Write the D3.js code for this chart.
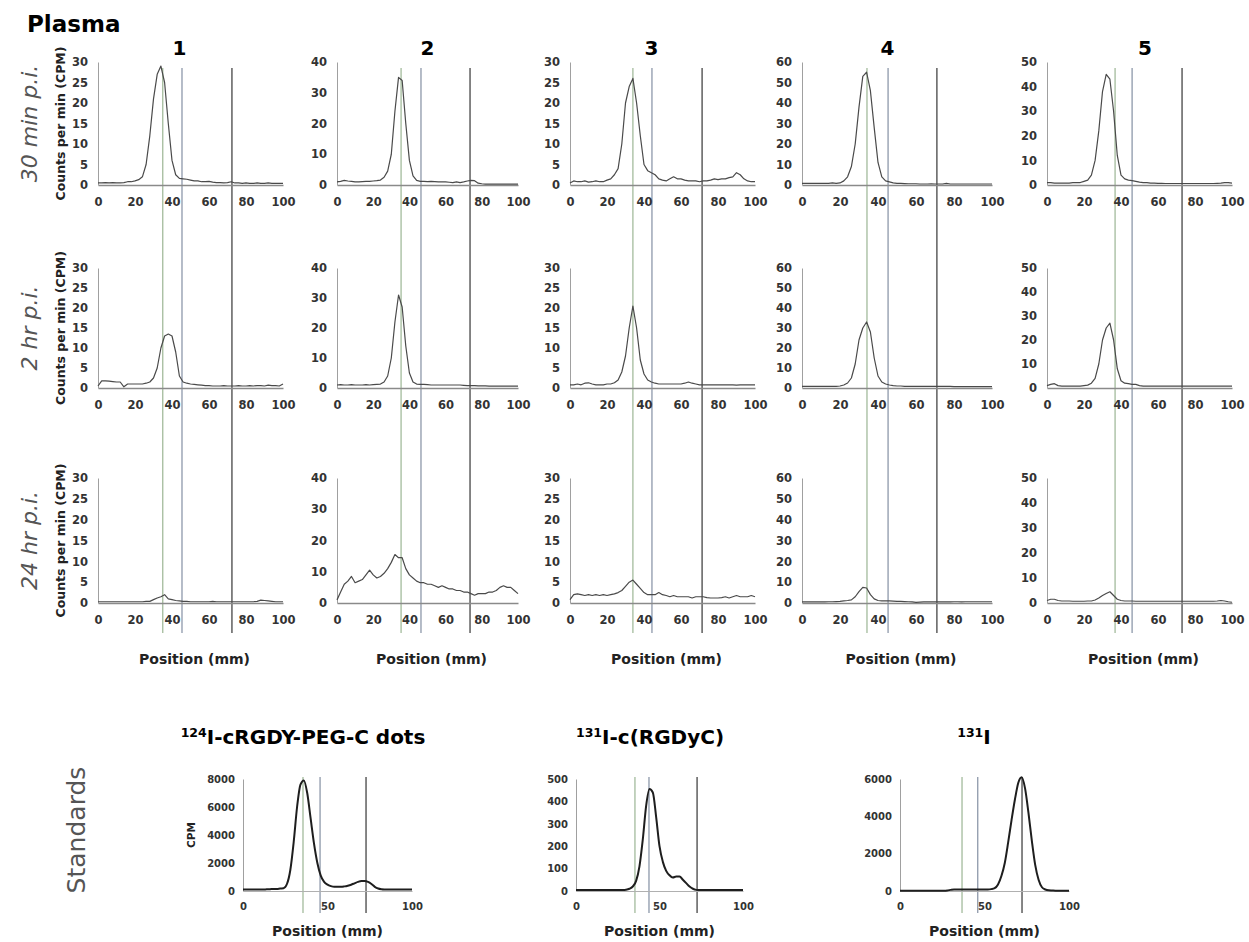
<!DOCTYPE html>
<meta charset="utf-8">
<script src="https://cdn.jsdelivr.net/npm/d3@7"></script>
<style>
body { margin: 0; background: #fff; }
svg text { font-family: "DejaVu Sans", "Liberation Sans", sans-serif; }
</style>
<body>
<script>

var width = 1249
var height = 942

// scan positions along the strip (mm)
var positions = [0,2,4,6,8,10,12,14,16,18,20,22,24,26,28,30,32,34,36,38,40,42,44,46,48,
                 50,52,54,56,58,60,62,64,66,68,70,72,74,76,78,80,82,84,86,88,90,92,94,96,98,100]

var laneLabels = ["1", "2", "3", "4", "5"]
var rowLabels = ["30 min p.i.", "2 hr p.i.", "24 hr p.i."]
var laneYMax = [30, 40, 30, 60, 50]
var laneYTicks = [[0,5,10,15,20,25,30], [0,10,20,30,40], [0,5,10,15,20,25,30],
                  [0,10,20,30,40,50,60], [0,10,20,30,40,50]]
var xTicks = [0, 20, 40, 60, 80, 100]

// plasma CPM, one array per lane (values at positions above)
var min30 = [
  [0.5,0.5,0.6,0.5,0.6,0.5,0.5,0.6,0.8,0.8, 1,1.3,2,5,12,21,27,29,25,15,
   6,2.5,1.6,1.5,1.4,1.2,1,1,0.8,0.8, 0.9,0.7,0.6,0.6,0.5,0.6,0.8,0.5,0.5,0.4,
   0.5,0.4,0.4,0.5,0.4,0.4,0.5,0.4,0.4,0.4, 0.4],
  [1,1.2,1.5,1.3,1.2,1,1,1.1,1.2,1.2, 1.3,1.4,1.6,2.5,4.5,10,24,35,34,20,
   8,3,1.5,1.2,1.2,1.1,1.2,1.1,1,1, 1,0.9,0.8,1,0.8,1,1.3,1.5,1.4,0.6,
   0.4,0.3,0.3,0.3,0.3,0.3,0.3,0.3,0.3,0.3, 0.3],
  [0.5,1,0.8,0.8,1,0.7,0.8,1,0.8,0.8, 1.2,1.5,2.5,4,10,20,24,26,20,12,
   5,3.5,3,2.5,1.5,1.2,1,1.5,2,1.5, 1.5,1.2,1,1,1,0.8,1,1,1.2,1.5,
   1.3,1.5,1.5,1.8,2,3,2.5,1.5,1,0.8, 0.8],
  [0.8,0.8,0.8,0.8,0.8,0.8,0.8,0.8,1,0.8, 1,2,4,9,20,38,53,55,46,28,
   11,4,2,1.5,1,0.8,0.8,0.7,0.6,0.6, 0.6,0.5,0.5,0.5,0.6,0.5,0.5,0.5,0.8,0.5,
   0.5,0.5,0.5,0.5,0.5,0.5,0.5,0.5,0.5,0.5, 0.5],
  [1,1,0.8,0.8,0.8,0.8,0.8,1,1,1, 1.5,2,4,10,22,38,45,43,30,12,
   4,2.5,2,1.8,1.5,1.2,1,1,0.8,0.8, 0.7,0.7,0.6,0.6,0.6,0.6,0.6,0.6,0.6,0.6,
   0.6,0.6,0.6,0.6,0.6,0.6,0.7,0.8,1,1, 0.8]
]

var hr2 = [
  [0.5,1.8,1.8,1.7,1.6,1.5,1.5,0.3,1,1, 1,1,1,1.2,1.5,2.5,5,10,13,13.5,
   13,9,3,1.5,1.2,1,0.9,0.8,0.7,0.6, 0.6,0.5,0.5,0.5,0.6,0.5,0.5,0.5,0.6,0.5,
   0.5,0.6,0.5,0.6,0.6,0.5,0.7,0.6,0.6,0.5, 1],
  [1,1.1,1,1,1.1,1,1,1,1.1,1, 1.1,1.2,1.3,2,4,10,22,31,27,14,
   5,2,1.3,1.2,1.2,1.1,1,1,1,1, 1,1,1,1,1,0.9,0.8,0.8,0.8,0.7,
   0.7,0.7,0.6,0.6,0.6,0.6,0.6,0.6,0.6,0.6, 0.6],
  [0.8,0.8,1,0.8,1.2,1.3,1,0.8,0.8,0.8, 1,1,1.3,2,4,8,15,20.5,15,7,
   3.5,2,1.5,1.2,1,1,1,1,1,1, 1,1.2,1.5,1.2,1,0.8,0.8,0.8,0.8,0.8,
   0.8,0.8,0.8,0.8,0.8,0.7,0.8,0.8,0.8,0.8, 0.8],
  [0.8,0.8,0.8,0.8,0.8,0.8,0.8,0.8,0.8,0.8, 1,1.5,2.5,5,12,24,30,33,28,15,
   6,3,2,1.5,1.2,1,1,0.8,0.8,0.8, 0.8,0.8,0.8,0.8,0.8,0.8,0.8,0.8,0.8,0.8,
   0.7,0.7,0.7,0.7,0.7,0.7,0.7,0.7,0.7,0.7, 0.7],
  [1,1.5,1.8,1,0.8,0.8,0.8,0.8,0.8,0.8, 1,1.2,2,4,10,20,25,27,20,8,
   3,2,1.8,1.5,1.5,1,0.8,0.8,0.8,0.8, 0.8,0.8,0.8,0.8,0.8,0.8,0.8,0.8,0.8,0.8,
   0.8,0.8,0.8,0.8,0.8,0.8,0.8,0.8,0.8,0.8, 0.8]
]

var hr24 = [
  [0.3,0.3,0.3,0.3,0.3,0.3,0.3,0.3,0.3,0.3, 0.3,0.3,0.3,0.4,0.4,0.8,1.2,1.5,2,1,
   0.8,0.6,0.5,0.4,0.4,0.3,0.3,0.3,0.3,0.3, 0.3,0.4,0.3,0.3,0.3,0.3,0.3,0.3,0.3,0.3,
   0.3,0.3,0.3,0.4,0.7,0.6,0.5,0.4,0.3,0.3, 0.3],
  [1,3.5,6,7,8.5,6.5,7,7.5,9,10.5, 9,8,8.5,9.5,11,13,15.5,14.5,14.5,11,
   9,8,7,6.5,6.5,6,6,5.5,5,5.5, 5,4.5,4.5,4,4,3.5,3.5,3,2.5,3,
   3,3,3.5,3.5,4,5,5.5,5,5,4, 3],
  [0.8,2,2.2,2,1.8,2,1.8,2,1.8,2, 1.8,2,2.2,2.5,3,4,5,5.5,4.5,3.5,
   2.5,2,2,2,2.5,2,1.8,1.5,1.8,1.5, 1.5,1.5,1.5,1.2,1.5,1.5,1.5,1.3,1.2,1.2,
   1.2,1.3,1.5,1.2,1.5,1.8,1.5,1.5,1.5,1.8, 1.5],
  [0.5,0.5,0.5,0.5,0.6,0.5,0.5,0.6,0.6,0.7, 0.8,1,1.2,1.5,3,5.5,7.5,7.2,4,2,
   1.2,1,1,1,0.9,0.8,0.8,0.7,0.6,0.5, 0.3,0.4,0.5,0.5,0.5,0.6,0.5,0.5,0.5,0.5,
   0.6,0.6,0.5,0.6,0.6,0.6,0.6,0.6,0.6,0.6, 0.6],
  [1,1.5,1.5,1,0.8,0.8,0.8,0.7,0.7,0.7, 0.7,0.8,0.8,1.2,2,3,3.8,4.5,3,1.5,
   1,0.8,0.8,0.8,0.7,0.7,0.7,0.7,0.7,0.7, 0.7,0.7,0.7,0.7,0.7,0.7,0.7,0.7,0.7,0.7,
   0.7,0.7,0.7,0.7,0.7,0.7,0.8,1,0.8,0.5, 0.3]
]

// reference lines drawn over each lane (mm)
var laneMarkers = [[35, 45.4, 72.4], [35.4, 46.4, 73.5], [34, 44.3, 71.4],
                   [34.2, 45.3, 71], [36.8, 46, 73]]

// standards
var stdIsotopes = ["124", "131", "131"]
var stdNames = ["I-cRGDY-PEG-C dots", "I-c(RGDyC)", "I"]
var stdYMax = [8000, 500, 6000]
var stdYTicks = [[0,2000,4000,6000,8000], [0,100,200,300,400,500], [0,2000,4000,6000]]
var stdXTicks = [0, 50, 100]
var stdDots = [100,100,100,100,100,100,100,120,130,150, 150,180,200,500,1500,3500,6000,7600,7900,7000,
   5200,3400,2000,1100,650,450,350,300,300,300, 330,380,450,550,650,720,720,650,500,300,
   180,130,110,100,100,100,100,100,100,100, 100]
var stdPeptide = [5,5,5,5,5,5,5,5,5,5, 5,5,5,5,5,6,10,20,45,110,
   230,380,455,440,330,200,130,90,70,60, 65,65,50,35,20,10,5,4,4,4,
   4,4,4,4,4,4,4,4,4,4, 4]
var stdIodide = [20,20,20,20,20,20,20,20,20,20, 20,20,20,20,30,60,80,80,80,80,
   80,80,80,80,80,80,80,100,150,350, 800,1500,2600,3800,4900,5800,6100,5500,4200,2700,
   1400,600,200,80,40,30,20,20,20,20, 20]
var stdMarkers = [[35.5, 45.6, 72.8], [35.3, 43.7, 72.5], [36.7, 46, 72.2]]

// layout
var colX = [[98,283], [337,518], [570,755], [802,992], [1047,1232]]
var rowY = [[62,185], [268,388], [478,603]]
var titleAt = [44, 50, 44, 45, 53]
var stdX = [[243,412], [576,743], [900,1069]]
var stdY = [779, 891]
var stdTitleX = [303, 650, 974]
var markerColors = ["#a3bb9c", "#8d98aa", "#454545"]

var svg = d3.select("body").append("svg")
            .attr("width", width)
            .attr("height", height)
svg.append("rect").attr("width", width).attr("height", height).attr("fill", "#fff")

var gMarks = svg.append("g").attr("id", "markers")
var gAxes = svg.append("g").attr("id", "axes")
var gTraces = svg.append("g").attr("id", "traces")
var gText = svg.append("g").attr("id", "text")

function styleAxis(g, fontSize, domainColor, domainWidth) {
  g.attr("font-family", "DejaVu Sans, sans-serif")
   .attr("font-size", fontSize)
   .attr("font-weight", "bold")
  g.selectAll("text").attr("fill", "#333")
  g.select(".domain").attr("stroke", domainColor).attr("stroke-width", domainWidth)
}

gText.append("text")
     .attr("x", 27).attr("y", 32)
     .style("font-size", "23px").style("font-weight", "bold")
     .text("Plasma")

var rows = [min30, hr2, hr24]

rows.forEach(function(series, r) {
  var cy = (rowY[r][0] + rowY[r][1]) / 2
  gText.append("text")
       .attr("transform", "translate(37," + cy + ") rotate(-90)")
       .style("text-anchor", "middle")
       .style("font-size", "22px").style("font-style", "italic")
       .style("fill", "#555")
       .text(rowLabels[r])
  gText.append("text")
       .attr("transform", "translate(65," + cy + ") rotate(-90)")
       .style("text-anchor", "middle")
       .style("font-size", "12.5px").style("font-weight", "bold")
       .style("fill", "#222")
       .text("Counts per min (CPM)")
})

laneLabels.forEach(function(lab, c) {
  var x = d3.scaleLinear().domain([0, 100]).range(colX[c])

  laneMarkers[c].forEach(function(m, k) {
    gMarks.append("line")
          .attr("x1", x(m)).attr("x2", x(m))
          .attr("y1", 68).attr("y2", 633)
          .style("stroke", markerColors[k])
          .style("stroke-width", 1.3)
  })

  gText.append("text")
       .attr("x", x(titleAt[c])).attr("y", 55)
       .style("text-anchor", "middle")
       .style("font-size", "20px").style("font-weight", "bold")
       .text(lab)

  gText.append("text")
       .attr("x", x(50) + 4).attr("y", 664)
       .style("text-anchor", "middle")
       .style("font-size", "14px").style("font-weight", "bold")
       .style("fill", "#222")
       .text("Position (mm)")

  rows.forEach(function(series, r) {
    var y = d3.scaleLinear().domain([0, laneYMax[c]]).range([rowY[r][1], rowY[r][0]])

    var ax = gAxes.append("g")
                  .attr("transform", "translate(0," + y(0) + ")")
                  .call(d3.axisBottom(x).tickValues(xTicks).tickSize(0).tickSizeOuter(0).tickPadding(13))
    styleAxis(ax, 11.5, "#8a8a8a", 1.4)

    var ay = gAxes.append("g")
                  .attr("transform", "translate(" + colX[c][0] + ",0)")
                  .call(d3.axisLeft(y).tickValues(laneYTicks[c]).tickSize(0).tickSizeOuter(0).tickPadding(10))
    styleAxis(ay, 11.5, "#a0a0a0", 1)

    var line = d3.line()
                 .x(function(d, i) { return x(positions[i]) })
                 .y(function(d) { return y(d) })

    gTraces.append("path")
           .datum(series[c])
           .attr("d", line)
           .style("fill", "none")
           .style("stroke", "#4a4a4a")
           .style("stroke-width", 1.2)
           .style("stroke-linejoin", "round")
  })
})

// standards row
gText.append("text")
     .attr("transform", "translate(85,830) rotate(-90)")
     .style("text-anchor", "middle")
     .style("font-size", "25px")
     .style("fill", "#555")
     .text("Standards")

gText.append("text")
     .attr("transform", "translate(195,835) rotate(-90)")
     .style("text-anchor", "middle")
     .style("font-size", "10.5px").style("font-weight", "bold")
     .style("fill", "#222")
     .text("CPM")

var stdSeries = [stdDots, stdPeptide, stdIodide]

stdSeries.forEach(function(series, s) {
  var x = d3.scaleLinear().domain([0, 100]).range(stdX[s])
  var y = d3.scaleLinear().domain([0, stdYMax[s]]).range([stdY[1], stdY[0]])

  stdMarkers[s].forEach(function(m, k) {
    gMarks.append("line")
          .attr("x1", x(m)).attr("x2", x(m))
          .attr("y1", stdY[0] - 2).attr("y2", stdY[1] + 22)
          .style("stroke", markerColors[k])
          .style("stroke-width", 1.3)
  })

  var title = gText.append("text")
                   .attr("x", stdTitleX[s]).attr("y", 744)
                   .style("text-anchor", "middle")
                   .style("font-size", "20px").style("font-weight", "bold")
  title.append("tspan").style("font-size", "12.5px").attr("dy", -7).text(stdIsotopes[s])
  title.append("tspan").attr("dy", 7).text(stdNames[s])

  gText.append("text")
       .attr("x", x(50)).attr("y", 936)
       .style("text-anchor", "middle")
       .style("font-size", "14px").style("font-weight", "bold")
       .style("fill", "#222")
       .text("Position (mm)")

  var ax = gAxes.append("g")
                .attr("transform", "translate(0," + y(0) + ")")
                .call(d3.axisBottom(x).tickValues(stdXTicks).tickSize(0).tickSizeOuter(0).tickPadding(12))
  styleAxis(ax, 10, "#b0b0b0", 1)

  var ay = gAxes.append("g")
                .attr("transform", "translate(" + stdX[s][0] + ",0)")
                .call(d3.axisLeft(y).tickValues(stdYTicks[s]).tickFormat(d3.format("d"))
                        .tickSize(0).tickSizeOuter(0).tickPadding(8))
  styleAxis(ay, 10, "#a0a0a0", 1)

  var line = d3.line()
               .curve(d3.curveMonotoneX)
               .x(function(d, i) { return x(positions[i]) })
               .y(function(d) { return y(d) })

  gTraces.append("path")
         .datum(series)
         .attr("d", line)
         .style("fill", "none")
         .style("stroke", "#1e1e1e")
         .style("stroke-width", 2)
})

</script>
</body>
